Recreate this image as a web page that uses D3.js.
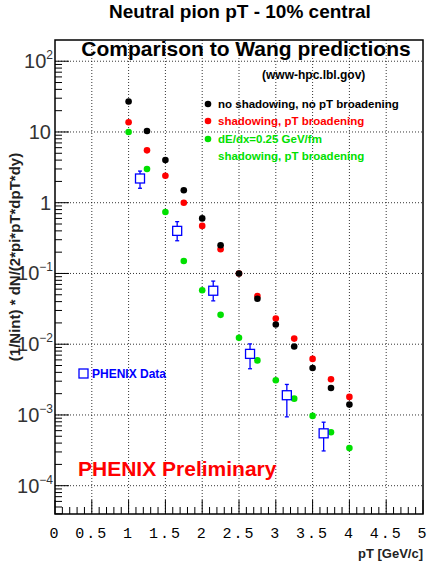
<!DOCTYPE html>
<html><head><meta charset="utf-8">
<script src="https://cdn.jsdelivr.net/npm/d3@7"></script>
<style>body{margin:0;background:#fff}text{font-family:"Liberation Sans",Arial,sans-serif}</style>
</head><body>
<script>
var ptModel = [1,1.25,1.5,1.75,2,2.25,2.5,2.75,3,3.25,3.5,3.75,4];
var noShadow = [27,10.3,4.0,1.5,0.6,0.25,0.1,0.044,0.019,0.0093,0.0046,0.0024,0.0014];
var shadow = [13.7,5.5,2.4,1.0,0.47,0.22,0.1,0.048,0.023,0.012,0.0062,0.0032,0.0018];
var eloss = [10,3.0,0.74,0.15,0.058,0.026,0.0123,0.0059,0.0031,0.0017,0.00097,0.00057,0.00034];
var ptData = [1.155,1.66,2.15,2.65,3.15,3.65];
var phenix = [2.2,0.4,0.057,0.0073,0.0019,0.00055];
var errLo = [1.6,0.29,0.041,0.0045,0.00094,0.00031];
var errHi = [2.8,0.54,0.078,0.0101,0.0027,0.00079];
var xTicks = [0,0.5,1,1.5,2,2.5,3,3.5,4,4.5,5];
var decades = [-4,-3,-2,-1,0,1,2];

var W=428,H=569,L=55,R=423,T=40,B=514;
var svg=d3.select('body').append('svg').attr('width',W).attr('height',H);
var x=d3.scaleLinear().domain([0,5]).range([L,R]);
var y=d3.scaleLog().domain([Math.pow(10,-4.4),Math.pow(10,2.3)]).range([B,T]);

// grid
svg.selectAll('.gx').data(xTicks.slice(1,-1)).enter().append('line')
  .attr('x1',d=>x(d)).attr('x2',d=>x(d)).attr('y1',T).attr('y2',B)
  .attr('stroke','#000').attr('stroke-dasharray','1,2').attr('stroke-width',0.8);
svg.selectAll('.gy').data(decades).enter().append('line')
  .attr('x1',L).attr('x2',R).attr('y1',d=>y(Math.pow(10,d))).attr('y2',d=>y(Math.pow(10,d)))
  .attr('stroke','#000').attr('stroke-dasharray','1,2').attr('stroke-width',0.8);

// frame
svg.append('rect').attr('x',L).attr('y',T).attr('width',R-L).attr('height',B-T)
  .attr('fill','none').attr('stroke','#000').attr('stroke-width',1.5);

// x ticks
var minorX=d3.range(0,5.001,0.1);
svg.selectAll('.tx').data(minorX).enter().append('line')
  .attr('x1',d=>x(d)).attr('x2',d=>x(d)).attr('y1',B)
  .attr('y2',d=>B-(Math.abs(d*2-Math.round(d*2))<0.01?14:7)).attr('stroke','#000');
svg.selectAll('.lx').data(xTicks).enter().append('text')
  .attr('x',d=>x(d)).attr('y',B+24).attr('text-anchor','middle')
  .style('font-family','"Liberation Mono",monospace').style('font-size','15px')
  .style('letter-spacing','2px').text(d=>String(d));
svg.append('text').attr('x',R).attr('y',B+44).attr('text-anchor','end')
  .style('font-weight','bold').style('font-size','13px').attr('fill','#222').text('pT [GeV/c]');

// y ticks
var minorY=[];
decades.forEach(function(d){for(var k=1;k<10;k++){minorY.push({v:k*Math.pow(10,d),k:k});}});
[4,5,6,7,8,9].forEach(function(k){minorY.push({v:k*Math.pow(10,-5),k:k});});
minorY=minorY.filter(d=>d.v>=y.domain()[0]&&d.v<=y.domain()[1]);
svg.selectAll('.ty').data(minorY).enter().append('line')
  .attr('x1',L).attr('x2',d=>L+(d.k===1?14:7)).attr('y1',d=>y(d.v)).attr('y2',d=>y(d.v)).attr('stroke','#000');
var ylab=svg.selectAll('.ly').data(decades).enter().append('text')
  .attr('x',d=>(d===0||d===1)?L-4:L-2).attr('y',d=>y(Math.pow(10,d))+7).attr('text-anchor','end')
  .attr('fill','#333').style('font-size','20px');
ylab.each(function(d){
  var t=d3.select(this);
  if(d===0){t.text('1');}
  else if(d===1){t.text('10');}
  else{t.append('tspan').text('10');t.append('tspan').attr('dy',-9).style('font-size','12px').text(d===2?'2':String(d).replace('-','\u2212'));}
});
svg.append('text').attr('transform','translate(20,'+((T+B)/2-20)+') rotate(-90)').attr('text-anchor','middle')
  .style('font-weight','bold').style('font-size','15px').attr('fill','#222')
  .text('(1/Nint) * dN/(2*pi*pT*dpT*dy)');

// titles
svg.append('text').attr('x',240).attr('y',18).attr('text-anchor','middle')
  .style('font-weight','bold').style('font-size','19px').text('Neutral pion pT - 10% central');
svg.append('text').attr('x',246).attr('y',56).attr('text-anchor','middle')
  .style('font-weight','bold').style('font-size','21px').text('Comparison to Wang predictions');
svg.append('text').attr('x',262).attr('y',79).style('font-weight','bold').style('font-size','12px').text('(www-hpc.lbl.gov)');

// model points
function dots(vals,col){
  svg.append('g').selectAll('circle').data(vals).enter().append('circle')
    .attr('cx',(d,i)=>x(ptModel[i])).attr('cy',d=>y(d)).attr('r',3.3).attr('fill',col);
}
dots(eloss,'#00e000');dots(shadow,'#ff0000');dots(noShadow,'#000');

// data
var g=svg.append('g').attr('stroke','#0000ff').attr('stroke-width',1.3);
ptData.forEach(function(p,i){
  g.append('line').attr('x1',x(p)).attr('x2',x(p)).attr('y1',y(errLo[i])).attr('y2',y(errHi[i]));
  [errLo[i],errHi[i]].forEach(function(v){g.append('line').attr('x1',x(p)-2).attr('x2',x(p)+2).attr('y1',y(v)).attr('y2',y(v));});
  g.append('rect').attr('x',x(p)-4.5).attr('y',y(phenix[i])-4.5).attr('width',9).attr('height',9).attr('fill','#fff');
});

// legend
var leg=[['no shadowing, no pT broadening','#000'],['shadowing, pT broadening','#ff0000'],['dE/dx=0.25 GeV/fm','#00e000']];
leg.forEach(function(l,i){
  var yy=[104,121,139][i];
  svg.append('circle').attr('cx',208).attr('cy',yy).attr('r',3.3).attr('fill',l[1]);
  svg.append('text').attr('x',218).attr('y',yy+4).attr('fill',l[1]).style('font-weight','bold').style('font-size','11.5px').text(l[0]);
});
svg.append('text').attr('x',218).attr('y',160).attr('fill','#00e000').style('font-weight','bold').style('font-size','11.5px').text('shadowing, pT broadening');
svg.append('rect').attr('x',79).attr('y',369).attr('width',9).attr('height',9).attr('fill','#fff').attr('stroke','#0000ff').attr('stroke-width',1.3);
svg.append('text').attr('x',92).attr('y',378).attr('fill','#0000ff').style('font-weight','bold').style('font-size','12px').text('PHENIX Data');
svg.append('text').attr('x',78).attr('y',476).attr('fill','#ff0000').style('font-weight','bold').style('font-size','21px').text('PHENIX Preliminary');
</script>
</body></html>
